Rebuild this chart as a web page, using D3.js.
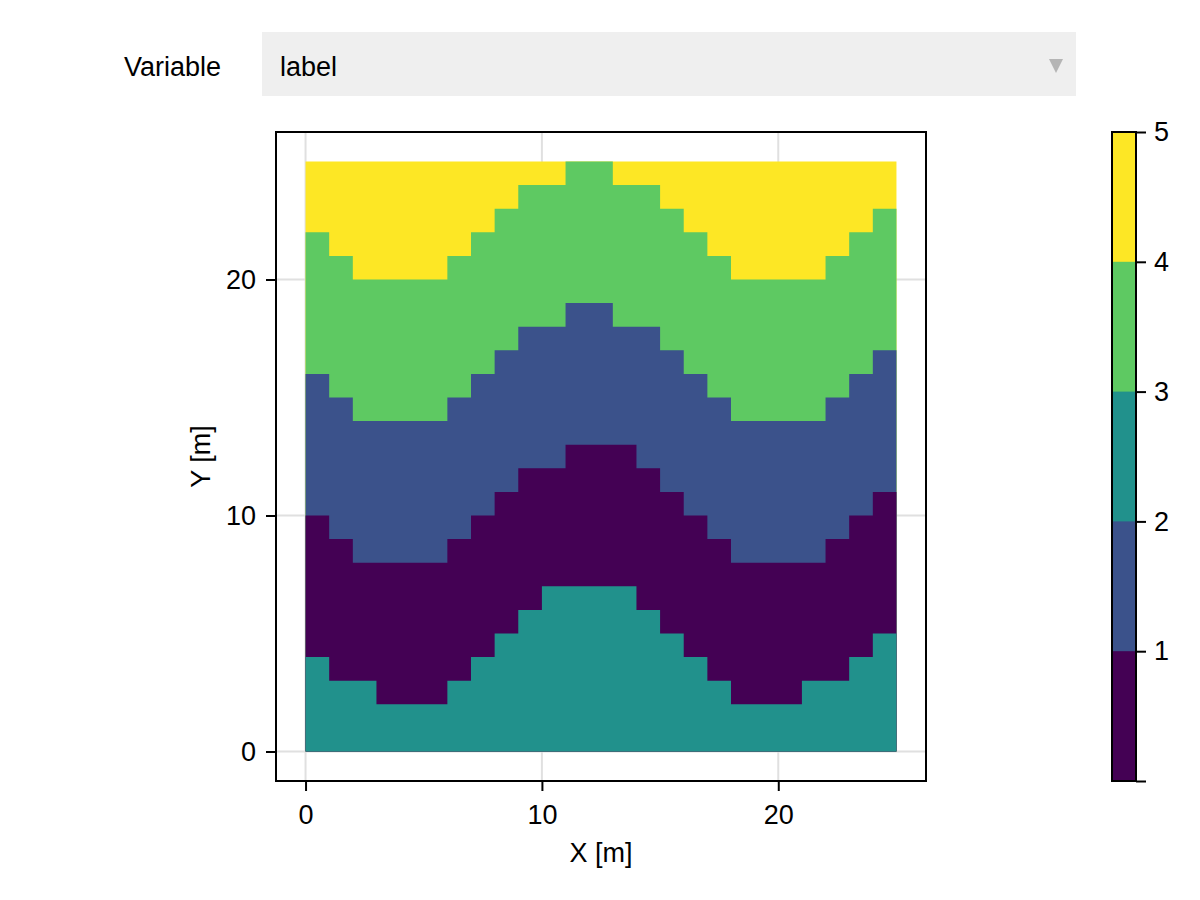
<!DOCTYPE html>
<html>
<head>
<meta charset="utf-8">
<script src="https://cdn.jsdelivr.net/npm/d3@7"></script>
<style>
  body { margin: 0; background: #fff; }
  svg text { font-family: "Liberation Sans", Arial, Helvetica, sans-serif; fill: #000; }
</style>
</head>
<body>
<svg id="chart" width="1200" height="900"></svg>
<script>
// grid: 25 columns of width 1 m, 25 rows of height 1 m
const nCols = 25, nRows = 25;

// top edge (in rows) of each layer, per column
const tealTop   = [4,3,3,2,2,2,3,4,5,6,7,7,7,7,6,5,4,3,2,2,2,3,3,4,5];
const purpleTop = [10,9,8,8,8,8,9,10,11,12,12,13,13,13,12,11,10,9,8,8,8,8,9,10,11];
const blueTop   = [16,15,14,14,14,14,15,16,17,18,18,19,19,18,18,17,16,15,14,14,14,14,15,16,17];
const greenTop  = [22,21,20,20,20,20,21,22,23,24,24,25,25,24,24,23,22,21,20,20,20,20,21,22,23];
const yellowTop = d3.range(nCols).map(() => nRows);

// label of each layer, bottom to top
const layerLabels = [3, 1, 2, 4, 5];
const layerTops = [tealTop, purpleTop, blueTop, greenTop, yellowTop];

const axisTicks = [0, 10, 20];
const colorTicks = [1, 2, 3, 4, 5];
const menuLabel = 'Variable', menuValue = 'label';

const FONT = 27;

const svg = d3.select('#chart');

// menu
svg.append('text').attr('x', 124).attr('y', 76).attr('font-size', FONT).text(menuLabel);
svg.append('rect').attr('x', 262).attr('y', 32).attr('width', 814).attr('height', 64).attr('fill', '#efefef');
svg.append('text').attr('x', 280).attr('y', 76).attr('font-size', FONT).text(menuValue);
svg.append('path').attr('d', 'M1049,59 L1063,59 L1056,73 Z').attr('fill', '#b5b5b5');

// axes
const L = 276, R = 926, T = 132, B = 781;
const x = d3.scaleLinear().domain([-1.25, nCols + 1.25]).range([L, R]);
const y = d3.scaleLinear().domain([-1.25, nRows + 1.25]).range([B, T]);

const color = d3.scaleOrdinal()
	.domain(colorTicks)
	.range(colorTicks.map((d, i) => d3.interpolateViridis(i / (colorTicks.length - 1))));

// grid lines
const grid = svg.append('g');
grid.selectAll('line.gx').data(axisTicks).enter().append('line')
	.attr('x1', d => x(d)).attr('x2', d => x(d)).attr('y1', T).attr('y2', B)
	.attr('stroke', '#e0e0e0').attr('stroke-width', 2);
grid.selectAll('line.gy').data(axisTicks).enter().append('line')
	.attr('y1', d => y(d)).attr('y2', d => y(d)).attr('x1', L).attr('x2', R)
	.attr('stroke', '#e0e0e0').attr('stroke-width', 2);

// heatmap: each layer painted from the bottom up to its top edge,
// upper layers first so lower ones cover them (no seams between cells)
const area = d3.area()
	.curve(d3.curveStepAfter)
	.x(d => x(d.i))
	.y0(y(0))
	.y1(d => y(d.top));

const layers = layerTops.map((tops, k) => ({
	v: layerLabels[k],
	pts: d3.range(nCols + 1).map(i => ({ i, top: tops[Math.min(i, nCols - 1)] }))
})).reverse();

svg.append('g').selectAll('path').data(layers).enter().append('path')
	.attr('d', d => area(d.pts))
	.attr('fill', d => color(d.v));

// frame
svg.append('rect').attr('x', L).attr('y', T).attr('width', R - L).attr('height', B - T)
	.attr('fill', 'none').attr('stroke', '#000').attr('stroke-width', 2);

const xAxis = svg.append('g').attr('transform', `translate(0,${B})`)
	.call(d3.axisBottom(x).tickValues(axisTicks).tickSize(10).tickPadding(14).tickFormat(d3.format('d')));
const yAxis = svg.append('g').attr('transform', `translate(${L},0)`)
	.call(d3.axisLeft(y).tickValues(axisTicks).tickSize(10).tickPadding(10).tickFormat(d3.format('d')));
[xAxis, yAxis].forEach(a => {
	a.select('.domain').remove();
	a.selectAll('.tick line').attr('stroke', '#000').attr('stroke-width', 2);
	a.selectAll('.tick text').attr('font-size', FONT).attr('font-family', null).attr('fill', '#000');
});

svg.append('text').attr('x', (L + R) / 2).attr('y', 862).attr('text-anchor', 'middle')
	.attr('font-size', FONT).text('X [m]');
svg.append('text').attr('transform', `translate(210,${(T + B) / 2}) rotate(-90)`)
	.attr('text-anchor', 'middle').attr('font-size', FONT).text('Y [m]');

// colorbar
const cbL = 1112, cbR = 1136;
const cy = d3.scaleLinear().domain([0, colorTicks.length]).range([B, T]);
svg.append('g').selectAll('rect').data(colorTicks.slice().reverse()).enter().append('rect')
	.attr('x', cbL).attr('width', cbR - cbL)
	.attr('y', d => cy(d)).attr('height', d => B - cy(d))
	.attr('fill', d => color(d));
svg.append('rect').attr('x', cbL).attr('y', T).attr('width', cbR - cbL).attr('height', B - T)
	.attr('fill', 'none').attr('stroke', '#000').attr('stroke-width', 2);
const cAxis = svg.append('g').attr('transform', `translate(${cbR},0)`)
	.call(d3.axisRight(cy).tickValues([0].concat(colorTicks)).tickSize(10).tickPadding(8)
		.tickFormat(d => d === 0 ? '' : d));
cAxis.select('.domain').remove();
cAxis.selectAll('.tick line').attr('stroke', '#000').attr('stroke-width', 2);
cAxis.selectAll('.tick text').attr('font-size', FONT).attr('font-family', null).attr('fill', '#000');
</script>
</body>
</html>
